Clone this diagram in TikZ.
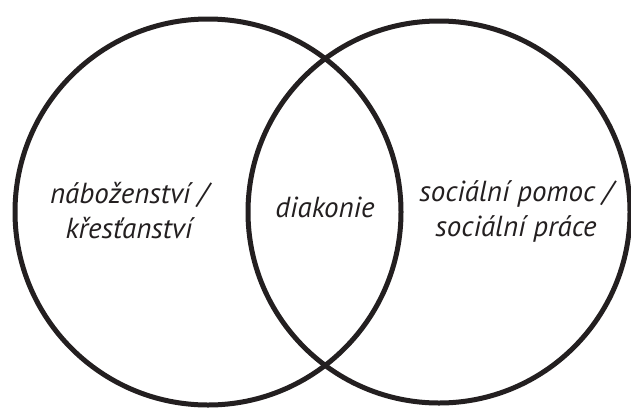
\documentclass[tikz,border=0pt]{standalone}
\usepackage{fontspec}
\setmainfont{PT Sans}
\definecolor{ink}{HTML}{231F20}
\begin{document}
\begin{tikzpicture}[x=1pt,y=-1pt,
  ring/.style={draw=ink,line width=5pt},
  lbl/.style={text=ink,font=\fontsize{29}{35}\selectfont\itshape,align=center,inner sep=0pt}]
\useasboundingbox (0,0) rectangle (631,408);
\node[ring,circle,minimum size=386pt,inner sep=0pt] (left) at (208,212) {};
\node[ring,circle,minimum size=382pt,inner sep=0pt] (right) at (439,212) {};
\node[lbl] (rel) at (129,211) {náboženství /\\křesťanství};
\node[lbl] (dia) at (325,207) {diakonie};
\node[lbl] (soc) at (516,211) {sociální pomoc /\\sociální práce};
\end{tikzpicture}
\end{document}
